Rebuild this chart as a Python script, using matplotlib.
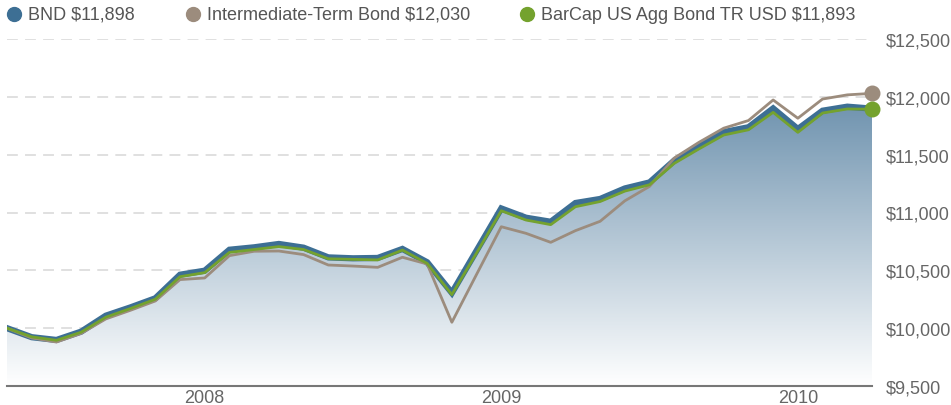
import numpy as np
import matplotlib
matplotlib.use("Agg")
import matplotlib.pyplot as plt
from matplotlib.colors import LinearSegmentedColormap
from matplotlib.patches import Polygon
from matplotlib.lines import Line2D

# --- data: growth of $10,000, month-end values Apr 2007 .. Mar 2010 ---
months = np.arange(36)
bnd = [10000, 9922, 9898, 9970, 10108, 10180, 10258, 10462, 10497, 10678,
       10699, 10728, 10696, 10612, 10604, 10607, 10685, 10570, 10305, 10670,
       11035, 10955, 10920, 11082, 11117, 11208, 11260, 11450, 11575, 11695,
       11737, 11900, 11722, 11880, 11915, 11898]
inter = [10000, 9915, 9880, 9955, 10080, 10155, 10235, 10420, 10434, 10627,
         10665, 10667, 10636, 10546, 10537, 10526, 10613, 10555, 10051, 10465,
         10877, 10820, 10742, 10843, 10924, 11101, 11226, 11471, 11607, 11729,
         11795, 11973, 11815, 11981, 12017, 12030]
barcap = [10000, 9925, 9895, 9965, 10095, 10170, 10250, 10445, 10480, 10655,
          10680, 10705, 10680, 10600, 10595, 10590, 10675, 10560, 10290, 10650,
          11015, 10935, 10895, 11050, 11095, 11185, 11240, 11425, 11550, 11670,
          11715, 11866, 11693, 11860, 11895, 11893]
year_pos = [8, 20, 32]
year_labels = ["2008", "2009", "2010"]
y_ticks = [9500, 10000, 10500, 11000, 11500, 12000, 12500]
legend_labels = ["BND $11,898", "Intermediate-Term Bond $12,030",
                 "BarCap US Agg Bond TR USD $11,893"]

c_bnd = "#3d6f94"
c_inter = "#9c8c7d"
c_barcap = "#74a22e"
c_text = "#666666"
font = ["Liberation Sans", "DejaVu Sans"]

W, H = 951, 406
fig = plt.figure(figsize=(W / 100, H / 100), dpi=100)
ax = fig.add_axes([7 / W, 1 - 387 / H, (872 - 7) / W, (387 - 40) / H])
ax.set_xlim(0, 35)
ax.set_ylim(9500, 12500)

# gradient fill under BND
cmap = LinearSegmentedColormap.from_list("fade", ["#ffffff", "#4f7b9d"])
grad = np.linspace(0, 1, 256).reshape(-1, 1)
img = ax.imshow(grad, extent=[0, 35, 9500, 12500], origin="lower",
                aspect="auto", cmap=cmap, zorder=1)
verts = [(0, 9500)] + list(zip(months, bnd)) + [(35, 9500)]
clip = Polygon(verts, closed=True, transform=ax.transData, facecolor="none",
               edgecolor="none")
ax.add_patch(clip)
img.set_clip_path(clip)

# grid
for y in y_ticks[1:]:
    ax.axhline(y, color="#dddddd", lw=1.3, ls=(0, (6, 4)), zorder=0)

ax.plot(months, bnd, color=c_bnd, lw=4.5, zorder=3, solid_joinstyle="miter")
ax.plot(months, inter, color=c_inter, lw=2, zorder=4)
ax.plot(months, barcap, color=c_barcap, lw=2, zorder=5)
ax.scatter([35], [inter[-1]], s=110, color=c_inter, zorder=6, clip_on=False)
ax.scatter([35], [barcap[-1]], s=110, color=c_barcap, zorder=7, clip_on=False)

for s in ["top", "left", "right"]:
    ax.spines[s].set_visible(False)
ax.spines["bottom"].set_color("#777777")
ax.spines["bottom"].set_linewidth(1.5)

ax.set_xticks(year_pos)
ax.set_xticklabels(year_labels, fontfamily=font, fontsize=13, color=c_text)
ax.tick_params(axis="x", length=0, pad=2)

ax.yaxis.tick_right()
ax.set_yticks(y_ticks)
ax.set_yticklabels(["${:,}".format(v) for v in y_ticks], fontfamily=font,
                   fontsize=13, color=c_text)
ax.tick_params(axis="y", length=0, pad=10)

# legend across the top
dot_x = [14, 193, 527]
text_x = [28, 207, 541]
for dx, tx, lab, c in zip(dot_x, text_x, legend_labels,
                          [c_bnd, c_inter, c_barcap]):
    fig.add_artist(Line2D([dx / W], [1 - 15 / H], marker="o", markersize=10,
                          color=c, transform=fig.transFigure))
    fig.text(tx / W, 1 - 15 / H, lab, fontfamily=font, fontsize=13,
             color="#555555", va="center", ha="left")

fig.savefig("out.png", dpi=100)
